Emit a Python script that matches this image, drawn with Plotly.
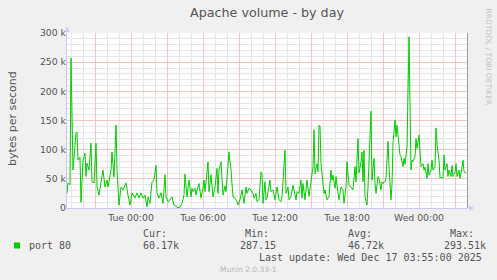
import pandas as pd
import plotly.graph_objects as go

# ---- data -------------------------------------------------------------
base_time = "2025-12-16 00:00"          # Tue 00:00
range_start_min = -320                   # Mon 18:40
range_end_min = 1680                     # Wed 04:00

minutes = [
    -320, -315, -305, -300, -290, -275, -270, -265, -255, -250, -240, -230, -225, -220,
    -210, -200, -195, -185, -175, -170, -160, -150, -140, -130, -120, -115, -100, -95,
    -85, -75, -70, -60, -50, -40, -25, -15, -5, 5, 20, 30, 40, 50, 60, 70, 80, 85, 95,
    105, 115, 125, 130, 140, 150, 160, 170,
    175, 185, 195, 205, 215, 225, 235, 245, 255, 265, 270, 280, 285, 290, 300, 305, 310,
    320, 325, 330, 340, 350, 360, 365, 370, 380, 385, 390, 400, 410, 420, 430, 435, 440,
    450, 460, 470, 475, 480, 490, 500, 510, 520, 530, 535, 545, 555, 565, 575, 580, 590,
    600, 610, 615, 625, 630, 640, 650, 655, 660, 670, 675,
    680, 695, 700, 710, 720, 730, 740, 750, 755, 770, 775, 785, 790, 800, 810, 815, 825,
    830, 840, 850, 855, 860, 870, 875, 880, 890, 895, 900, 910, 915, 920, 930, 935, 940,
    945, 950, 960, 965, 970, 980, 990, 1000, 1005, 1010, 1020, 1025, 1035, 1040, 1050,
    1060, 1065, 1075, 1080, 1090, 1100, 1110, 1120, 1125, 1135, 1140, 1150, 1155, 1160,
    1165, 1170, 1180, 1185, 1200, 1205, 1210, 1215, 1220, 1225, 1235, 1240, 1250, 1255,
    1260, 1270, 1275, 1285, 1290, 1300, 1305, 1310, 1320, 1325, 1330, 1340, 1345, 1350,
    1360, 1365, 1370, 1380, 1385, 1390, 1400, 1405, 1410, 1420, 1425, 1430, 1440, 1445,
    1450, 1460, 1465, 1470, 1480, 1485, 1490, 1500, 1505, 1510, 1520, 1525, 1530, 1540,
    1545, 1550, 1560, 1565, 1570, 1580, 1585, 1590, 1600, 1605, 1610, 1620, 1625, 1630,
    1640, 1645, 1650, 1660, 1665, 1675,
]

values_k = [
    25, 43, 40, 257, 65, 128, 130, 82, 87, 10, 82, 94, 54, 77,
    65, 111, 45, 43, 111, 36, 22, 43, 65, 36, 48, 36, 65, 96,
    53, 142, 65, 5, 36, 31, 43, 22, 5, 26, 17, 26, 17, 26, 17, 22, 2, 19, 8,
    45, 48, 73, 26, 17, 26, 8, 57,
    19, 11, 14, 19, 5, 2, 0.29, 1.5, 8, 22, 58, 19, 34, 48, 19, 34, 28,
    34, 22, 31, 42, 17, 34, 48, 28, 59, 79, 28, 57, 19, 36, 68, 25, 65,
    79, 22, 38, 28, 51, 96, 65, 19, 17, 11, 5, 14, 31, 8, 36, 25, 34,
    31, 25, 17, 25, 11, 14, 62, 59, 8, 45, 14,
    17, 48, 28, 31, 14, 36, 14, 11, 20, 99, 25, 36, 14, 20, 39, 31, 14,
    28, 25, 48, 17, 42, 14, 31, 48, 20, 34, 42, 71, 134, 59, 76, 62, 142,
    140, 76, 45, 25, 31, 14, 20, 65, 48, 56, 34, 54, 25, 14, 36,
    31, 8, 36, 79, 39, 36, 31, 71, 45, 119, 60, 79, 96, 45,
    99, 19, 5, 36, 166, 48, 68, 85, 42, 25, 54, 51, 31, 45,
    42, 45, 51, 114, 71, 14, 40, 111, 151, 122, 142, 99, 91, 88,
    71, 85, 75, 105, 191, 293.51, 65, 82, 80, 88, 119, 102, 125, 105,
    71, 76, 65, 70, 51, 76, 56, 65, 82, 65, 70, 137, 111, 82,
    51, 53, 51, 91, 65, 76, 54, 65, 54, 73, 54, 62, 76, 54,
    65, 51, 59, 82, 62, 60.17,
]

y_tick_values = [0, 50000, 100000, 150000, 200000, 250000, 300000]
y_tick_labels = ["0", "50 k", "100 k", "150 k", "200 k", "250 k", "300 k"]
y_minor_step = 10000

x_tick_start_min = -180     # Mon 21:00 (first 3-hour grid line)
x_tick_step_hours = 3
x_tick_labels = ["", "Tue 00:00", "", "Tue 06:00", "", "Tue 12:00", "",
                 "Tue 18:00", "", "Wed 00:00", ""]

series_name = "port 80"
series_color = "#00CC00"
legend_headers = ["Cur:", "Min:", "Avg:", "Max:"]
legend_values = ["60.17k", "287.15", "46.72k", "293.51k"]
last_update = "Last update: Wed Dec 17 03:55:00 2025"
title_text = "Apache volume - by day"
y_title = "bytes per second"
side_text = "RRDTOOL / TOBI OETIKER"
footer = "Munin 2.0.33-1"

# ---- build -----------------------------------------------------------
base = pd.Timestamp(base_time)
times = base + pd.to_timedelta(minutes, unit="min")
values = [v * 1000 for v in values_k]
x_start = base + pd.Timedelta(minutes=range_start_min)
x_end = base + pd.Timedelta(minutes=range_end_min)
tick_times = [base + pd.Timedelta(minutes=x_tick_start_min) + pd.Timedelta(hours=x_tick_step_hours * i)
              for i in range(len(x_tick_labels))]
hour_times = list(pd.date_range(x_start.ceil("h"), x_end, freq="h"))
y_minor_vals = list(range(0, y_tick_values[-1] + 1, y_minor_step))

W, H = 497, 280
L, R, T, B = 67, 30, 33, 72
PW, PH = W - L - R, H - T - B


def px(x):
    return (x - L) / PW


def py(y):
    return (H - B - y) / PH


fig = go.Figure()
fig.add_trace(go.Scatter(x=times, y=values, mode="lines",
                         line=dict(color=series_color, width=1),
                         name=series_name, showlegend=False, hoverinfo="skip"))
# helper empty traces so that overlay axes are built
fig.add_trace(go.Scatter(x=[], y=[], xaxis="x2", yaxis="y2", showlegend=False, hoverinfo="skip"))
fig.add_trace(go.Scatter(x=[], y=[], xaxis="x", yaxis="y3", showlegend=False, hoverinfo="skip"))

axis_font = dict(family="DejaVu Sans", size=9.3, color="#555555")
major = "#f6c2c2"
minor_c = "#e6e6e6"
axis_c = "#c8c8f4"

fig.update_layout(
    width=W, height=H, autosize=False,
    margin=dict(l=L, r=R, t=T, b=B, pad=0),
    paper_bgcolor="#F0F0F0", plot_bgcolor="#FFFFFF",
    title=dict(text=title_text, x=0.5, xref="paper", xanchor="center",
               y=1 - 12.5 / H, yanchor="middle",
               font=dict(family="DejaVu Sans", size=12.7, color="#555555")),
    # hourly grey grid
    xaxis=dict(
        type="date", range=[x_start, x_end],
        tickmode="array", tickvals=hour_times, ticktext=[""] * len(hour_times),
        showgrid=True, gridcolor=minor_c, gridwidth=1,
        showline=True, linecolor=axis_c, linewidth=1,
        ticks="", zeroline=False, fixedrange=True,
    ),
    # 3-hourly red grid + labels
    xaxis2=dict(
        type="date", overlaying="x", matches="x", side="bottom", anchor="y",
        tickmode="array", tickvals=tick_times, ticktext=x_tick_labels,
        showgrid=True, gridcolor=major, gridwidth=1,
        showline=False, ticks="", tickfont=axis_font, zeroline=False,
        ticklabelstandoff=3, fixedrange=True,
    ),
    yaxis=dict(
        range=[0, y_tick_values[-1]],
        tickmode="array", tickvals=y_minor_vals, ticktext=[""] * len(y_minor_vals),
        showgrid=True, gridcolor=minor_c, gridwidth=1,
        showline=True, linecolor=axis_c, linewidth=1,
        ticks="", zeroline=False, fixedrange=True,
    ),
    yaxis2=dict(
        overlaying="y", matches="y", side="left", anchor="x",
        tickmode="array", tickvals=y_tick_values, ticktext=y_tick_labels,
        showgrid=True, gridcolor=major, gridwidth=1,
        showline=False, ticks="", tickfont=axis_font, zeroline=False, fixedrange=True,
    ),
    yaxis3=dict(overlaying="y", matches="y", side="right", anchor="x", showline=True,
                linecolor="#9a9a9a", linewidth=1, showgrid=False,
                showticklabels=False, ticks="", zeroline=False),
    showlegend=False,
)

ann = []
ann.append(dict(text=y_title, xref="paper", yref="paper", x=px(12), y=py(118),
                xanchor="center", yanchor="middle", textangle=-90, showarrow=False,
                font=dict(family="DejaVu Sans", size=11, color="#555555")))
ann.append(dict(text=side_text, xref="paper", yref="paper", x=px(488.5), y=py(57),
                xanchor="center", yanchor="middle", textangle=90, showarrow=False,
                font=dict(family="DejaVu Sans", size=7.5, color="#c4c4c4")))
ann.append(dict(text="", xref="paper", yref="paper", x=0, y=py(27), ax=0, ay=4,
                showarrow=True, arrowhead=2, arrowsize=1, arrowwidth=1, arrowcolor=axis_c))
ann.append(dict(text="", xref="paper", yref="paper", x=px(474), y=0, ax=-4, ay=0,
                showarrow=True, arrowhead=2, arrowsize=1, arrowwidth=1, arrowcolor=axis_c))

mono = dict(family="DejaVu Sans Mono", size=10, color="#555555")
ann.append(dict(text=series_name, xref="paper", yref="paper", x=px(26.5), y=py(245.7),
                xanchor="left", yanchor="middle", showarrow=False, font=mono))
header_x = [140.7, 243.3, 345.7, 447.7]
value_x = [140.7, 237.7, 345.7, 441.7]
for hx, h in zip(header_x, legend_headers):
    ann.append(dict(text=h, xref="paper", yref="paper", x=px(hx), y=py(233.3),
                    xanchor="left", yanchor="middle", showarrow=False, font=mono))
for vx, v in zip(value_x, legend_values):
    ann.append(dict(text=v, xref="paper", yref="paper", x=px(vx), y=py(245.7),
                    xanchor="left", yanchor="middle", showarrow=False, font=mono))
ann.append(dict(text=last_update, xref="paper", yref="paper", x=px(483.5), y=py(257.3),
                xanchor="right", yanchor="middle", showarrow=False, font=mono))
ann.append(dict(text=footer, xref="paper", yref="paper", x=px(248), y=py(269),
                xanchor="center", yanchor="middle", showarrow=False,
                font=dict(family="DejaVu Sans", size=7.5, color="#b4b4b4")))
fig.update_layout(annotations=ann)

fig.add_shape(type="rect", xref="paper", yref="paper", x0=px(14), x1=px(20),
              y0=py(248.5), y1=py(242.5), fillcolor=series_color, line=dict(width=0))

fig.write_html("out.html")
